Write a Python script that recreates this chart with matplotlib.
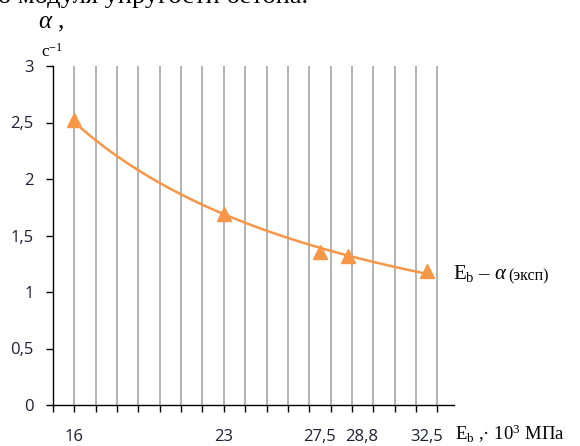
import numpy as np
import matplotlib
matplotlib.use("Agg")
import matplotlib.pyplot as plt
import matplotlib.transforms as mtransforms

plt.rcParams["mathtext.fontset"] = "custom"
plt.rcParams["mathtext.rm"] = "Liberation Serif"
plt.rcParams["mathtext.it"] = "Liberation Serif:italic"

# Data
E_b = [16, 23, 27.5, 28.8, 32.5]
alpha = [2.52, 1.69, 1.35, 1.32, 1.19]
x_labels = ["16", "23", "27,5", "28,8", "32,5"]
y_ticks = [0, 0.5, 1, 1.5, 2, 2.5, 3]
y_labels = ["0", "0,5", "1", "1,5", "2", "2,5", "3"]
grid_x = list(range(15, 34))

orange = "#F79646"
tick_color = "#1f1f33"

fig = plt.figure(figsize=(5.8, 4.46), dpi=100)
ax = fig.add_axes([53/580, 41/446, (454-53)/580, (405-66)/446])

# power trendline fitted to data
b, ln_a = np.polyfit(np.log(E_b), np.log(alpha), 1)
xs = np.linspace(min(E_b), max(E_b), 200)
ax.plot(xs, np.exp(ln_a) * xs**b, color=orange, lw=1.8, zorder=3)
ax.plot(E_b, alpha, linestyle="none", marker="^", markersize=10,
        color=orange, zorder=4, clip_on=False)

ax.set_xlim(15, 33.78)
ax.set_ylim(0, 3)

for gx in grid_x[1:]:
    ax.axvline(gx, color="#a6a6a6", lw=1.2, zorder=1)

ax.spines["top"].set_visible(False)
ax.spines["right"].set_visible(False)
ax.spines["left"].set_linewidth(1.0)
ax.spines["bottom"].set_linewidth(1.0)

ax.xaxis.remove_overlapping_locs = False
ax.set_xticks(grid_x)
ax.set_xticklabels([])
ax.tick_params(axis="x", which="major", direction="out", length=5, width=1, color="black")
ax.set_xticks(E_b, minor=True)
ax.set_xticklabels(x_labels, minor=True)
ax.tick_params(axis="x", which="minor", length=0, pad=17, labelsize=12,
               labelcolor=tick_color)
for lab in ax.get_xticklabels(minor=True):
    lab.set_fontfamily("Open Sans")
    if lab.get_text() == "28,8":
        lab.set_transform(lab.get_transform() +
                          mtransforms.ScaledTranslation(14/100, 0, fig.dpi_scale_trans))

ax.set_yticks(y_ticks)
ax.set_yticklabels(y_labels)
ax.tick_params(axis="y", direction="out", length=5, width=1, color="black",
               pad=9, labelsize=12, labelcolor=tick_color)
for lab in ax.get_yticklabels():
    lab.set_fontfamily("Open Sans")

serif = "Liberation Serif"
# cut-off caption line at top
fig.text(-0.004, 1 - 3/446, "о модуля упругости бетона.", family=serif, fontsize=19,
         va="baseline", ha="left", color="black")
# y axis label
fig.text(38/580, 1 - 28/446, r"$\alpha$ ,", family=serif, fontsize=18,
         va="baseline", ha="left", color="black")
fig.text(41/580, 1 - 57/446, "с$^{-1}$", family=serif, fontsize=12.5,
         va="baseline", ha="left", color="black")
# x axis label
fig.text(455/580, 1 - 440/446, "E$_{\\rm b}$ ,· 10$^3$ МПа", family=serif, fontsize=13.5,
         va="baseline", ha="left", color="black")
# series label
t = fig.text(453/580, 1 - 279/446, "E$_{\\rm b}$ – $\\alpha$", family=serif, fontsize=15,
             va="baseline", ha="left", color="black")
ax.annotate("(эксп)", xy=(1, 0), xycoords=t, xytext=(0.5, 2.5), textcoords="offset points",
            family=serif, fontsize=11.5, va="baseline", ha="left", color="black",
            annotation_clip=False)

fig.savefig("out.png", dpi=100)
